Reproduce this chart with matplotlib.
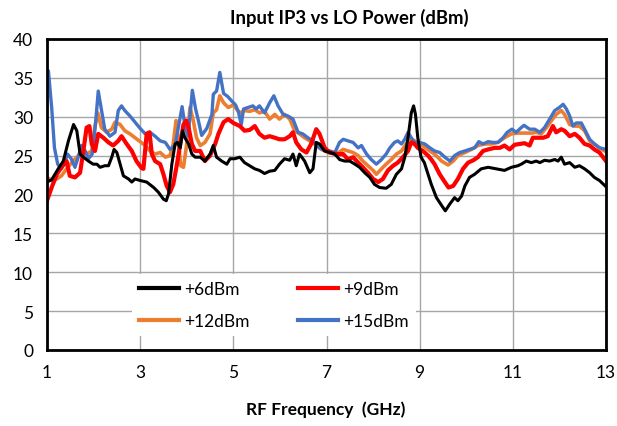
import matplotlib
matplotlib.use("Agg")
import matplotlib.pyplot as plt

plt.rcParams['font.family'] = ['Lato', 'DejaVu Sans']

# (GHz, dBm) points
lo6 = [(1.0, 21.6), (1.1, 21.9), (1.24, 23.3), (1.35, 24.3), (1.46, 26.9), (1.57, 29.0), (1.64, 28.2),
       (1.71, 25.2), (1.78, 24.8), (1.89, 24.3), (1.99, 23.9), (2.07, 23.9), (2.14, 23.5), (2.24, 23.7),
       (2.32, 23.7), (2.39, 24.8), (2.44, 25.8), (2.5, 25.4), (2.57, 23.9), (2.64, 22.4), (2.75, 22.0),
       (2.82, 21.6), (2.89, 22.0), (3.0, 21.8), (3.14, 21.6), (3.29, 20.9), (3.39, 20.3), (3.5, 19.4),
       (3.56, 19.2), (3.61, 20.1), (3.68, 23.9), (3.75, 26.5), (3.8, 26.7), (3.86, 26.0), (3.91, 28.2),
       (3.96, 27.3), (4.04, 26.5), (4.11, 25.2), (4.18, 24.8), (4.29, 24.8), (4.39, 24.3), (4.5, 25.2),
       (4.57, 26.3), (4.64, 24.8), (4.75, 24.3), (4.86, 23.9), (4.93, 24.6), (5.03, 24.6), (5.14, 24.8),
       (5.24, 24.1), (5.35, 23.7), (5.46, 23.3), (5.56, 23.1), (5.67, 22.7), (5.78, 23.0), (5.89, 23.1),
       (5.99, 23.9), (6.1, 24.6), (6.21, 24.4), (6.28, 25.2), (6.35, 23.7), (6.42, 25.2), (6.53, 24.3),
       (6.64, 22.8), (6.71, 23.3), (6.78, 26.7), (6.85, 26.5), (6.96, 25.6), (7.07, 25.4), (7.18, 25.2),
       (7.28, 24.5), (7.39, 24.3), (7.5, 24.3), (7.61, 23.9), (7.71, 23.5), (7.82, 22.8), (7.93, 22.2),
       (8.03, 21.3), (8.14, 20.9), (8.28, 20.8), (8.39, 21.3), (8.5, 22.6), (8.61, 23.3), (8.68, 24.8),
       (8.75, 27.3), (8.82, 30.5), (8.87, 31.4), (8.91, 30.3), (8.96, 27.3), (9.03, 24.8), (9.1, 24.1),
       (9.18, 22.6), (9.25, 21.3), (9.36, 19.6), (9.47, 18.6), (9.55, 17.9), (9.65, 18.8), (9.75, 19.6),
       (9.82, 19.2), (9.9, 19.8), (9.97, 21.1), (10.07, 22.2), (10.18, 22.6), (10.32, 23.3), (10.47, 23.5),
       (10.65, 23.3), (10.82, 23.1), (10.97, 23.5), (11.11, 23.7), (11.18, 23.9), (11.29, 24.3),
       (11.4, 24.1), (11.5, 24.3), (11.58, 24.1), (11.68, 24.4), (11.79, 24.3), (11.9, 24.5), (11.97, 24.3),
       (12.04, 24.8), (12.11, 23.9), (12.22, 24.1), (12.33, 23.5), (12.43, 23.7), (12.54, 23.3),
       (12.65, 22.8), (12.75, 22.2), (12.86, 21.8), (13.0, 21.0)]

lo9 = [(1.0, 19.2), (1.1, 20.9), (1.21, 22.6), (1.31, 23.5), (1.42, 24.3), (1.49, 22.4), (1.6, 22.2),
       (1.71, 22.8), (1.78, 25.6), (1.85, 28.6), (1.91, 28.8), (1.96, 26.5), (2.03, 25.6), (2.1, 27.8),
       (2.21, 27.3), (2.32, 26.7), (2.42, 26.3), (2.53, 26.9), (2.6, 27.5), (2.71, 26.5), (2.82, 25.6),
       (2.92, 24.3), (3.03, 23.4), (3.07, 23.3), (3.14, 27.8), (3.2, 28.0), (3.25, 25.2), (3.32, 24.3),
       (3.43, 23.9), (3.5, 22.6), (3.57, 21.1), (3.64, 20.3), (3.71, 21.3), (3.79, 23.9), (3.86, 26.5),
       (3.93, 29.0), (3.99, 29.5), (4.04, 28.6), (4.11, 26.5), (4.18, 25.6), (4.29, 25.6), (4.39, 24.3),
       (4.5, 25.0), (4.61, 26.5), (4.68, 27.8), (4.79, 29.3), (4.89, 29.7), (5.0, 29.2), (5.14, 28.8),
       (5.24, 28.2), (5.35, 28.3), (5.46, 28.8), (5.56, 27.8), (5.67, 27.3), (5.78, 27.5), (5.89, 27.3),
       (5.99, 27.1), (6.1, 27.1), (6.21, 27.5), (6.28, 28.0), (6.35, 26.7), (6.46, 25.8), (6.57, 25.4),
       (6.67, 26.5), (6.78, 28.4), (6.85, 27.8), (6.96, 26.0), (7.07, 25.4), (7.21, 25.2), (7.36, 25.2),
       (7.46, 24.5), (7.57, 24.8), (7.68, 24.1), (7.78, 23.5), (7.89, 22.8), (8.0, 22.0), (8.11, 21.6),
       (8.21, 22.0), (8.32, 23.1), (8.43, 23.7), (8.53, 24.1), (8.64, 24.8), (8.75, 25.6), (8.82, 26.7),
       (8.89, 26.5), (8.96, 26.0), (9.07, 25.6), (9.18, 25.0), (9.25, 24.5), (9.32, 23.9), (9.43, 22.6),
       (9.54, 21.6), (9.62, 20.9), (9.72, 21.1), (9.82, 22.0), (9.93, 23.3), (10.04, 24.1), (10.15, 24.4),
       (10.25, 24.8), (10.36, 25.6), (10.47, 25.8), (10.61, 26.0), (10.72, 26.0), (10.82, 26.3),
       (10.93, 25.8), (11.04, 26.4), (11.15, 26.5), (11.25, 26.6), (11.36, 26.3), (11.43, 27.3),
       (11.54, 27.3), (11.65, 27.3), (11.75, 27.5), (11.86, 28.8), (11.93, 28.0), (12.04, 28.4),
       (12.11, 28.2), (12.22, 27.5), (12.33, 27.8), (12.43, 27.3), (12.54, 26.5), (12.65, 26.3),
       (12.75, 25.8), (12.86, 25.4), (13.0, 24.3)]

lo12 = [(1.0, 22.2), (1.1, 21.8), (1.21, 22.0), (1.31, 22.4), (1.42, 23.3), (1.53, 24.1), (1.64, 24.8),
        (1.74, 25.4), (1.85, 25.2), (1.96, 25.6), (2.03, 28.8), (2.09, 30.5), (2.17, 28.6), (2.28, 28.0),
        (2.39, 28.4), (2.46, 29.3), (2.57, 29.0), (2.67, 28.2), (2.78, 27.8), (2.89, 27.3), (3.0, 26.8),
        (3.11, 26.3), (3.21, 25.6), (3.32, 25.2), (3.43, 25.4), (3.54, 24.8), (3.64, 25.0), (3.71, 26.5),
        (3.77, 29.5), (3.82, 26.9), (3.87, 23.7), (3.93, 23.5), (4.0, 26.5), (4.07, 31.2), (4.14, 29.5),
        (4.21, 27.3), (4.29, 26.3), (4.39, 26.7), (4.5, 27.8), (4.57, 30.5), (4.64, 30.9), (4.71, 32.7),
        (4.79, 31.8), (4.89, 31.2), (5.0, 31.5), (5.14, 30.5), (5.24, 30.8), (5.35, 30.7), (5.46, 30.9),
        (5.56, 30.5), (5.67, 30.7), (5.78, 29.7), (5.89, 30.3), (5.99, 29.7), (6.1, 30.3), (6.21, 29.7),
        (6.32, 28.2), (6.42, 27.8), (6.53, 27.3), (6.64, 26.9), (6.74, 26.5), (6.89, 25.8), (7.03, 25.4),
        (7.21, 25.2), (7.36, 25.8), (7.46, 25.6), (7.57, 25.4), (7.68, 25.0), (7.78, 24.3), (7.89, 23.7),
        (8.0, 23.1), (8.07, 22.6), (8.18, 23.3), (8.28, 23.9), (8.39, 24.5), (8.5, 25.2), (8.61, 25.6),
        (8.71, 26.5), (8.82, 27.1), (8.89, 26.9), (9.0, 26.5), (9.11, 26.1), (9.22, 25.6), (9.32, 25.2),
        (9.47, 24.3), (9.61, 23.8), (9.72, 24.3), (9.82, 25.0), (9.97, 25.4), (10.11, 25.8), (10.25, 26.3),
        (10.4, 26.5), (10.54, 26.5), (10.68, 26.7), (10.82, 27.3), (10.97, 27.8), (11.11, 27.9),
        (11.24, 27.9), (11.4, 27.9), (11.5, 28.0), (11.61, 27.8), (11.72, 28.6), (11.83, 29.5),
        (11.93, 30.3), (12.04, 30.8), (12.11, 30.3), (12.22, 29.0), (12.33, 28.8), (12.43, 28.8),
        (12.54, 28.2), (12.65, 26.9), (12.75, 26.5), (12.86, 26.0), (13.0, 25.5)]

lo15 = [(1.0, 36.0), (1.03, 35.9), (1.1, 31.2), (1.16, 26.0), (1.23, 23.9), (1.31, 23.3), (1.39, 24.3),
        (1.44, 25.2), (1.52, 24.6), (1.6, 23.5), (1.67, 24.8), (1.74, 26.3), (1.82, 25.6), (1.89, 24.6),
        (1.97, 25.2), (2.04, 29.0), (2.1, 33.3), (2.16, 31.2), (2.24, 28.4), (2.35, 27.5), (2.46, 28.0),
        (2.53, 30.8), (2.6, 31.4), (2.67, 30.8), (2.78, 30.1), (2.89, 29.3), (3.0, 28.5), (3.11, 27.8),
        (3.21, 28.0), (3.32, 27.5), (3.43, 26.9), (3.54, 26.7), (3.64, 25.8), (3.75, 26.3), (3.82, 28.6),
        (3.9, 31.3), (3.97, 28.5), (4.03, 27.5), (4.12, 33.4), (4.19, 31.0), (4.25, 29.5), (4.32, 27.6),
        (4.43, 28.5), (4.54, 30.3), (4.57, 32.9), (4.64, 33.3), (4.71, 35.7), (4.79, 33.0), (4.88, 32.6),
        (4.97, 32.0), (5.05, 31.5), (5.11, 30.6), (5.17, 29.0), (5.22, 31.0), (5.32, 31.2), (5.42, 31.4),
        (5.49, 31.0), (5.56, 31.4), (5.67, 30.5), (5.78, 31.8), (5.87, 32.7), (5.96, 31.4), (6.07, 30.3),
        (6.17, 30.1), (6.28, 29.7), (6.39, 28.0), (6.49, 27.8), (6.6, 27.3), (6.71, 26.9), (6.85, 26.0),
        (6.99, 25.6), (7.07, 25.6), (7.18, 25.4), (7.28, 26.7), (7.36, 27.1), (7.46, 26.9), (7.57, 26.7),
        (7.68, 26.0), (7.75, 26.3), (7.86, 25.2), (7.96, 24.5), (8.07, 23.9), (8.18, 24.5), (8.28, 25.2),
        (8.36, 26.0), (8.46, 26.7), (8.53, 26.9), (8.61, 26.5), (8.68, 27.1), (8.75, 28.0), (8.82, 27.3),
        (8.89, 26.7), (9.0, 26.7), (9.11, 26.5), (9.22, 26.0), (9.32, 25.6), (9.43, 25.4), (9.54, 24.8),
        (9.65, 24.3), (9.75, 25.0), (9.86, 25.4), (9.97, 25.6), (10.07, 25.8), (10.18, 26.0),
        (10.27, 26.8), (10.36, 26.5), (10.47, 26.8), (10.57, 26.7), (10.68, 26.7), (10.79, 27.3),
        (10.88, 28.0), (10.98, 28.4), (11.07, 28.0), (11.18, 28.6), (11.24, 28.9), (11.36, 28.4),
        (11.47, 28.4), (11.58, 28.0), (11.68, 28.6), (11.79, 29.7), (11.9, 30.8), (12.0, 31.2),
        (12.08, 31.6), (12.15, 31.0), (12.22, 30.1), (12.29, 28.8), (12.36, 29.2), (12.47, 29.2),
        (12.54, 28.4), (12.65, 27.1), (12.75, 26.5), (12.86, 26.0), (13.0, 25.8)]

labels = ['+6dBm', '+9dBm', '+12dBm', '+15dBm']
colors = ['black', '#FF0000', '#ED7D31', '#4472C4']
widths = [2.2, 3.0, 2.6, 2.4]
zorders = [6, 5, 3, 4]
x_ticks = [1, 3, 5, 7, 9, 11, 13]
y_ticks = [0, 5, 10, 15, 20, 25, 30, 35, 40]

fig = plt.figure(figsize=(6.17, 4.27), dpi=100)
ax = fig.add_axes([47 / 617, 1 - 351 / 427, 559 / 617, 311 / 427])

handles = []
for pts, lab, c, lw, z in zip([lo6, lo9, lo12, lo15], labels, colors, widths, zorders):
    xs = [p[0] for p in pts]
    ys = [p[1] for p in pts]
    ln, = ax.plot(xs, ys, color=c, lw=lw, label=lab, zorder=z, solid_joinstyle='round')
    handles.append(ln)

ax.set_xlim(1, 13)
ax.set_ylim(0, 40)
ax.set_xticks(x_ticks)
ax.set_yticks(y_ticks)
ax.grid(True, color='#A6A6A6', lw=1.0, zorder=0)
ax.set_axisbelow(True)
ax.tick_params(length=0, labelsize=12.5, pad=10)
for s in ax.spines.values():
    s.set_color('black')
    s.set_linewidth(2.0)
    s.set_zorder(10)

# legend fills by column, so reorder to get 6/9 on top row, 12/15 below
order = [0, 2, 1, 3]
leg = ax.legend([handles[i] for i in order], [labels[i] for i in order],
                loc='center', bbox_to_anchor=(0.406, 0.145), ncol=2, fontsize=12.5,
                frameon=True, facecolor='white', edgecolor='none', framealpha=1,
                handlelength=2.3, handletextpad=0.3, columnspacing=2.8, labelspacing=0.95,
                borderpad=0.4, fancybox=False)
leg.set_zorder(20)
for h in leg.get_lines():
    h.set_linewidth(3.0)

fig.text(349 / 617, 1 - 18 / 427, 'Input IP3 vs LO Power (dBm)', ha='center', va='center',
         fontsize=13.3, fontweight='bold')
fig.text(326 / 617, 1 - 410 / 427, 'RF Frequency  (GHz)', ha='center', va='center',
         fontsize=12.5, fontweight='bold')

fig.savefig('out.png', dpi=100)
